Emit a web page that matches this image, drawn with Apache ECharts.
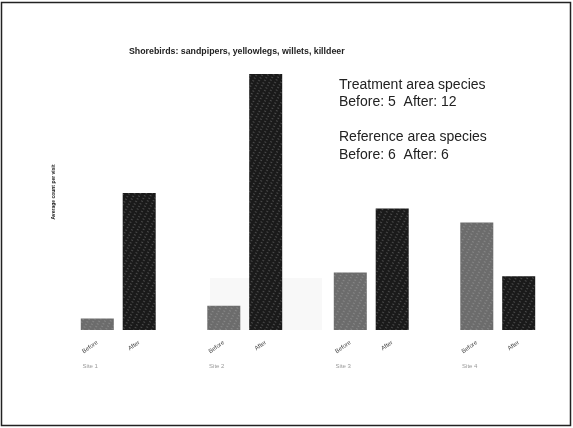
<!DOCTYPE html>
<html>
<head>
<meta charset="utf-8">
<script src="https://cdn.jsdelivr.net/npm/echarts@6/dist/echarts.min.js"></script>
<style>
  html, body { margin: 0; padding: 0; background: #fff; }
  #chart { width: 573px; height: 428px; }
</style>
</head>
<body>
<div id="chart"></div>
<script>
    // datos
    var groups = ['Site 1', 'Site 2', 'Site 3', 'Site 4'];
    var before = [0.9, 1.9, 4.5, 8.4];
    var after = [10.7, 20, 9.5, 4.2];
    var notes = [
        'Treatment area species',
        'Before: 5  After: 12',
        '',
        'Reference area species',
        'Before: 6  After: 6'
    ];

    var chart = echarts.init(document.getElementById('chart'));

    // textura punteada para las barras
    function stipple(alpha) {
        return {
            symbol: 'rect',
            symbolSize: 0.7,
            color: 'rgba(255,255,255,' + alpha + ')',
            dashArrayX: [2, 3],
            dashArrayY: [1, 2],
            rotation: 0.5
        };
    }

    var barLabel = {
        show: true,
        position: 'bottom',
        distance: 12,
        align: 'right',
        verticalAlign: 'middle',
        rotate: 35,
        fontSize: 6,
        color: '#444',
        fontFamily: 'Liberation Sans',
        formatter: function (p) { return p.seriesName; }
    };

    chart.setOption({
        animation: false,
        title: {
            text: 'Shorebirds: sandpipers, yellowlegs, willets, killdeer',
            left: 124,
            top: 42,
            textStyle: {
                fontSize: 8.8,
                fontWeight: 'bold',
                color: '#222',
                fontFamily: 'Liberation Sans Narrow, Liberation Sans, sans-serif'
            }
        },
        grid: { left: 55, right: 12, top: 74, bottom: 98 },
        xAxis: {
            type: 'category',
            data: groups,
            axisLine: { show: false },
            axisTick: { show: false },
            axisLabel: {
                margin: 33,
                padding: [0, 56, 0, 0],
                fontSize: 6,
                color: '#999',
                fontFamily: 'Liberation Sans'
            }
        },
        yAxis: {
            type: 'value',
            min: 0,
            max: 20,
            name: 'Average count per visit',
            nameLocation: 'middle',
            nameGap: -1,
            nameTextStyle: { fontSize: 5, fontWeight: 'bold', color: '#222', padding: [0, 0, 0, 20] },
            axisLine: { show: false },
            axisTick: { show: false },
            axisLabel: { show: false },
            splitLine: { show: false }
        },
        series: [{
            name: 'Before',
            type: 'bar',
            data: before,
            barWidth: 33,
            barGap: '27%',
            itemStyle: { color: '#6c6c6c', decal: stipple(0.5) },
            label: barLabel
        }, {
            name: 'After',
            type: 'bar',
            data: after,
            barWidth: 33,
            itemStyle: { color: '#1a1a1a', decal: stipple(0.6) },
            label: barLabel
        }],
        graphic: [{
            type: 'rect',
            z: -1,
            shape: { x: 210, y: 278, width: 112, height: 52 },
            style: { fill: '#f8f8f8' }
        }, {
            type: 'rect',
            shape: { x: 1.5, y: 2.5, width: 569, height: 423 },
            style: { fill: null, stroke: '#222', lineWidth: 1.5 }
        }, {
            type: 'text',
            left: 339,
            top: 76,
            style: {
                text: notes.join('\n'),
                fontSize: 14,
                lineHeight: 17.5,
                fill: '#222',
                fontFamily: 'Liberation Sans, Arial, sans-serif'
            }
        }]
    });
</script>
</body>
</html>
